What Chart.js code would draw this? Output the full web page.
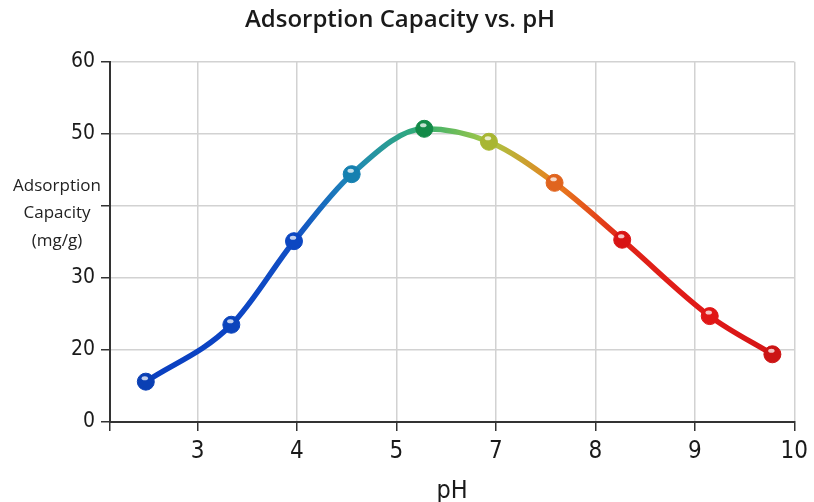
<!DOCTYPE html>
<html>
<head>
<meta charset="utf-8">
<script src="https://cdn.jsdelivr.net/npm/chart.js@4"></script>
<style>
  html, body { margin: 0; padding: 0; background: #fff; }
  #wrap { width: 814px; height: 502px; }
</style>
</head>
<body>
<div id="wrap"><canvas id="ph-chart" width="814" height="502"></canvas></div>
<script>
'use strict';

/*===== data =====*/
// x positions along the (uneven) pH axis: tick k sits at position 3 + k
const phPositions = [2.48, 3.34, 3.97, 4.55, 5.28, 5.93, 6.59, 7.27, 8.15, 8.78];
const capacity    = [15.6, 23.5, 35.1, 44.4, 50.7, 48.9, 43.2, 35.3, 24.7, 19.4];
const xTickLabels = ['3', '4', '5', '7', '8', '9', '10'];
const yTickValues = [10, 20, 30, 40, 50, 60];
const yTickLabels = ['0', '20', '30', '', '50', '60'];

/*===== colours =====*/
const pointColors = ['#0a3fb4', '#0b44bc', '#0c47c2', '#1580b0', '#138a48',
                     '#a8b632', '#e0641e', '#d81414', '#e01616', '#cc1414'];
const lineColors  = ['#0a3fc0', '#0c44c4', '#1250c4', '#1f88b8', '#34b070',
                     '#a8c844', '#e8801e', '#e02418', '#e01818', '#d41616'];

const tickFont = 'DejaVu Sans Condensed, Roboto, sans-serif';

const ctx = document.getElementById('ph-chart').getContext('2d');

// gradient for the curve, stops placed at each point via the x scale
function lineGradient(context){
  const chart = context.chart;
  const area = chart.chartArea;
  if(!area) return lineColors[0];
  const xs = chart.scales.x;
  const g = chart.ctx.createLinearGradient(area.left, 0, area.right, 0);
  const w = area.right - area.left;
  phPositions.forEach((p, i) => {
    let t = (xs.getPixelForValue(p) - area.left) / w;
    t = Math.min(1, Math.max(0, t));
    g.addColorStop(t, lineColors[i]);
  });
  return g;
}

// y-title written flat on three lines + glossy spot on markers
const extras = {
  id: 'extras',
  afterDatasetsDraw(chart){
    const c = chart.ctx;
    const meta = chart.getDatasetMeta(0);
    c.save();
    meta.data.forEach(pt => {
      c.fillStyle = 'rgba(255,255,255,0.75)';
      c.beginPath();
      c.ellipse(pt.x - 1, pt.y - 3.5, 3.2, 2, 0, 0, Math.PI * 2);
      c.fill();
    });
    c.restore();
  },
  afterDraw(chart){
    const c = chart.ctx;
    c.save();
    c.fillStyle = '#222';
    c.font = '17px "Open Sans"';
    c.textAlign = 'center';
    c.textBaseline = 'middle';
    c.fillText('Adsorption', 57, 186);
    c.fillText('Capacity', 57, 213);
    c.fillText('(mg/g)', 57, 241);
    c.restore();
  }
};

const pts = phPositions.map((p, i) => ({x: p, y: capacity[i]}));

new Chart(ctx, {
  type: 'line',
  data: {
    datasets: [{
      label: 'Adsorption Capacity',
      data: pts,
      borderColor: lineGradient,
      borderWidth: 5.5,
      cubicInterpolationMode: 'monotone',
      pointRadius: 8.5,
      pointHoverRadius: 8.5,
      pointBackgroundColor: pointColors,
      pointBorderColor: pointColors,
      pointBorderWidth: 1
    }]
  },
  plugins: [extras],
  options: {
    responsive: false,
    animation: false,
    layout: { padding: { top: 4, right: 14, left: 0, bottom: 0 } },
    plugins: {
      legend: { display: false },
      tooltip: { enabled: false },
      title: {
        display: true,
        text: 'Adsorption Capacity vs. pH',
        color: '#1a1a1a',
        font: { family: 'Open Sans', size: 24, weight: 600 },
        padding: { top: 2, bottom: 27 }
      }
    },
    scales: {
      x: {
        type: 'linear',
        min: 2.12,
        max: 9,
        afterBuildTicks(scale){
          scale.ticks = [2.12, 3, 4, 5, 6, 7, 8, 9].map(v => ({value: v}));
        },
        afterFit(scale){ scale.height = 80; },
        ticks: {
          color: '#1a1a1a',
          font: { family: tickFont, size: 24 },
          padding: 6,
          maxRotation: 0,
          autoSkip: false,
          callback: v => {
            const k = Math.round(v) - 3;
            return (Math.abs(v - Math.round(v)) < 1e-6 && xTickLabels[k]) ? xTickLabels[k] : '';
          }
        },
        grid: { color: '#d2d2d2', lineWidth: 1.5, tickColor: '#333', tickLength: 9 },
        border: { color: '#333', width: 2 },
        title: {
          display: true,
          text: 'pH',
          color: '#1a1a1a',
          font: { family: tickFont, size: 25, lineHeight: 0.88 },
          padding: { top: 2, bottom: 0 }
        }
      },
      y: {
        min: 10,
        max: 60,
        afterBuildTicks(scale){
          scale.ticks = yTickValues.map(v => ({value: v}));
        },
        afterFit(scale){ scale.width = 110; },
        ticks: {
          color: '#1a1a1a',
          font: { family: tickFont, size: 21 },
          padding: 6,
          callback: v => {
            const i = yTickValues.indexOf(v);
            return i >= 0 ? yTickLabels[i] : '';
          }
        },
        grid: { color: '#d2d2d2', lineWidth: 1.5, tickColor: '#333', tickLength: 9 },
        border: { color: '#333', width: 2 }
      }
    }
  }
});
</script>
</body>
</html>
